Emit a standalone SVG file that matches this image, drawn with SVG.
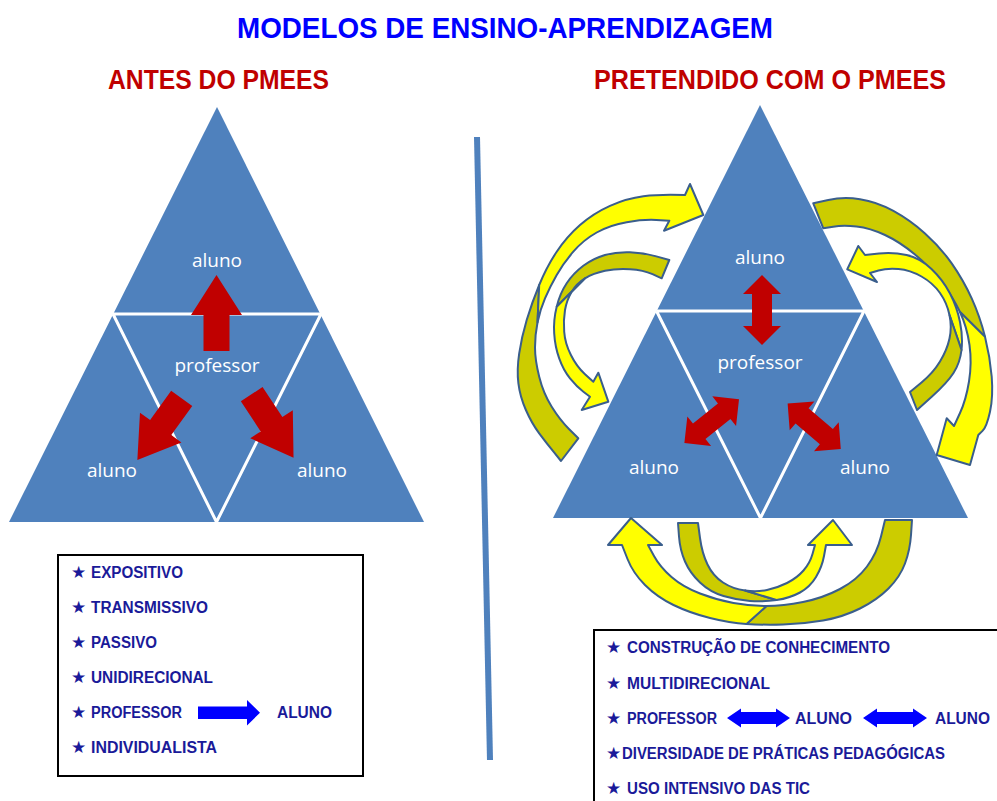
<svg xmlns="http://www.w3.org/2000/svg" width="997" height="801" viewBox="0 0 997 801">
<defs>
<style>
.tri{fill:#4F81BD}
.sep{stroke:#FFFFFF;stroke-width:3;fill:none}
.lbl{font-family:"Open Sans","Liberation Sans",sans-serif;font-size:19px;fill:#FFFFFF;text-anchor:middle}
.red{fill:#C00000}
.ol{fill:#CCCC00;stroke:#3A5E8C;stroke-width:2;stroke-linejoin:round}
.ye{fill:#FFFF00;stroke:#3A5E8C;stroke-width:2;stroke-linejoin:round}
.box{fill:#FFFFFF;stroke:#000000;stroke-width:2}
.it{font-family:"Liberation Sans",Arial,sans-serif;font-weight:bold;font-size:16px;fill:#1A1A99}
.st{font-family:"DejaVu Sans",sans-serif;font-size:17px;fill:#1A1A99}
.bl{fill:#0000FF}
.h1{font-family:"Liberation Sans",Arial,sans-serif;font-weight:bold;font-size:30px;fill:#0000FF}
.h2{font-family:"Liberation Sans",Arial,sans-serif;font-weight:bold;font-size:27px;fill:#C00000}
</style>
<path id="arr1" d="M-13,0 L13,0 L13,-36 L25.5,-36 L0,-76 L-25.5,-36 L-13,-36 Z"/>
<path id="arr2" d="M-35,0 L-16,-19 L-16,-10 L16,-10 L16,-19 L35,0 L16,19 L16,10 L-16,10 L-16,19 Z"/>
</defs>
<rect width="997" height="801" fill="#FFFFFF"/>

<g id="titles">
<text class="h1" x="237" y="38" textLength="536" lengthAdjust="spacingAndGlyphs">MODELOS DE ENSINO-APRENDIZAGEM</text>
<text class="h2" x="108" y="89" textLength="221" lengthAdjust="spacingAndGlyphs">ANTES DO PMEES</text>
<text class="h2" x="594" y="89" textLength="352" lengthAdjust="spacingAndGlyphs">PRETENDIDO COM O PMEES</text>
</g>

<g id="divider">
<line x1="477" y1="137" x2="490" y2="760" stroke="#4F81BD" stroke-width="6"/>
</g>

<g id="left-model">
<polygon class="tri" points="217,107 9,522 424,522"/>
<path class="sep" d="M113,314 L321,314 M113,314 L216.5,522 M321,314 L216.5,522"/>
<text class="lbl" x="217" y="267">aluno</text>
<text class="lbl" x="217" y="372">professor</text>
<text class="lbl" x="112" y="477">aluno</text>
<text class="lbl" x="322" y="477">aluno</text>
<use href="#arr1" class="red" transform="translate(216.5,351)"/>
<use href="#arr1" class="red" transform="translate(181.7,398.3) rotate(-144.3)"/>
<use href="#arr1" class="red" transform="translate(251.7,394.2) rotate(146.6)"/>
</g>

<g id="right-model">
<polygon class="tri" points="760,105 553,518 968,518"/>
<path class="sep" d="M656.5,311 L864,311 M656.5,311 L760.5,518 M864,311 L760.5,518"/>
<text class="lbl" x="760" y="264">aluno</text>
<text class="lbl" x="760" y="369">professor</text>
<text class="lbl" x="654" y="474">aluno</text>
<text class="lbl" x="865" y="474">aluno</text>
<use href="#arr2" class="red" transform="translate(762,310) rotate(90)"/>
<use href="#arr2" class="red" transform="translate(711.7,421.2) rotate(-38.7)"/>
<use href="#arr2" class="red" transform="translate(814.2,426.3) rotate(40.6)"/>
</g>

<g id="cycle-arrows">
<path class="ol" d="M561,461 L553.9,452.2 Q546.7,443.3 539.2,433.3 Q531.7,423.3 525.9,410 Q520,396.7 518.4,383.4 Q516.7,370 519.2,353.4 Q521.7,336.7 526.7,320 Q531.7,303.3 539.2,285 L537.5,322.5 Q535,335 535,347.5 Q535,360 539.2,376.7 Q543.3,393.3 551.7,406.7 Q560,420 569.2,429.2 L578.3,438.3 Z"/>
<path class="ye" d="M539.2,285 Q546.7,266.7 556.7,251.7 Q566.7,236.7 580,225 Q593.3,213.3 610,205.8 Q626.7,198.3 643.4,196.2 Q660,194 685,195 L690,184 L703.3,215 L664,230.7 L669.3,220.7 L656.3,220 Q643.3,219.3 626.7,222.2 Q610,225 596.7,232.5 Q583.3,240 573.3,251.7 Q563.3,263.3 556.7,275 Q550,286.7 545,298.4 Q540,310 537.5,322.5 Z"/>
<path class="ol" d="M669.3,260 L656.3,256.4 Q643.3,252.7 630,252.2 Q616.7,251.7 605,255 Q593.3,258.3 583.3,265.8 Q573.3,273.3 566.7,283.3 Q560,293.3 556.7,306.7 L585,278.3 Q593.3,273.3 605,270.8 Q616.7,268.3 630,269.2 Q643.3,270 652.5,274.2 L661.7,278.3 Z"/>
<path class="ye" d="M556.7,306.7 Q553.3,320 554.2,333.4 Q555,346.7 559.2,358.4 Q563.3,370 570,378.4 Q576.7,386.7 583.4,391.7 L590,396.7 L581.7,410 L608.3,401.7 L598.3,372.7 L593.3,381.7 L585,374.2 Q576.7,366.7 570.9,355 Q565,343.3 564.2,331.7 Q563.3,320 565,310 Q566.7,300 571.7,291.7 Q576.7,283.3 585,278.3 Z"/>
<path class="ol" d="M813.3,203.3 L828.3,200 Q843.3,196.7 860,199.2 Q876.7,201.7 893.4,210.9 Q910,220 925,233.4 Q940,246.7 951.7,263.4 Q963.3,280 971.7,298.4 Q980,316.7 985,336.7 L960,312 Q953,297 941.5,282 Q930,267 915,254.5 Q900,242 885,235 Q870,228 856.5,226.5 Q843,225 833.2,226.7 L823.3,228.3 Z"/>
<path class="ye" d="M985,336.7 Q990,356.7 991.7,376.7 Q993.3,396.7 990,411.7 Q986.7,426.7 982.5,430.9 L978.3,435 L970,465 L936.7,455 L946.7,418.3 L954,426 L960,413 Q966,400 969,381.5 Q972,363 969.5,345 Q967,327 960,312 Z"/>
<path class="ye" d="M865,255 L879,253.5 Q893,252 906.5,255 Q920,258 931.5,269 Q943,280 950,293.5 Q957,307 960,322 Q963,337 961.5,350 L949.5,315 Q947,303 940,293 Q933,283 921.5,276.5 Q910,270 898.5,269 Q887,268 878.5,270.5 L870,273 L877,282 L847.3,269.3 L858.3,246 Z"/>
<path class="ol" d="M961.5,350 Q960,363 953.5,373 Q947,383 932,396.5 L917,410 L910,392 L921.5,382.5 Q933,373 940,361.5 Q947,350 949.5,338.5 Q952,327 949.5,315 Z"/>
<path class="ol" d="M912,520 L911,535 Q910,550 905,563.5 Q900,577 888.5,588.5 Q877,600 860,608.5 Q843,617 823,620.5 Q803,624 783,624.5 Q763,625 746.5,624 L766.5,606 Q783,606 803,602 Q823,598 840,589 Q857,580 867,566.5 Q877,553 881,536.5 L885,520 Z"/>
<path class="ye" d="M746.5,624 Q730,623 710,618 Q690,613 673.5,605 Q657,597 645,585 Q633,573 627.5,559 L622,545 L608,545 L631,518 L662,545 L648,545 L654,556 Q660,567 671.5,577 Q683,587 700,593.5 Q717,600 733.5,603 Q750,606 766.5,606 Z"/>
<path class="ol" d="M678,523 L679,536.5 Q680,550 685,561.5 Q690,573 700,582.5 Q710,592 723.5,596 Q737,600 750,601 Q763,602 776.5,600 L745,590.5 Q733,589 723,582.5 Q713,576 707.5,564.5 Q702,553 700,538 L698,523 Z"/>
<path class="ye" d="M776.5,600 Q790,598 800,592.5 Q810,587 816,577 Q822,567 824,556 L826,545 L852,545 L833,520 L808,545 L815,545 L812.5,554 Q810,563 803.5,570.5 Q797,578 787,583 Q777,588 767,590 Q757,592 745,590.5 Z"/>
</g>

<g id="left-box">
<rect class="box" x="58" y="555" width="305" height="221"/>
<text class="st" x="71" y="578">★</text><text class="it" x="91" y="578" textLength="92" lengthAdjust="spacingAndGlyphs">EXPOSITIVO</text>
<text class="st" x="71" y="613">★</text><text class="it" x="91" y="613" textLength="117" lengthAdjust="spacingAndGlyphs">TRANSMISSIVO</text>
<text class="st" x="71" y="648">★</text><text class="it" x="91" y="648" textLength="66" lengthAdjust="spacingAndGlyphs">PASSIVO</text>
<text class="st" x="71" y="683">★</text><text class="it" x="91" y="683" textLength="122" lengthAdjust="spacingAndGlyphs">UNIDIRECIONAL</text>
<text class="st" x="71" y="718">★</text><text class="it" x="91" y="718" textLength="91" lengthAdjust="spacingAndGlyphs">PROFESSOR</text>
<polygon class="bl" points="198,706.5 247,706.5 247,700 260,712.7 247,725.5 247,719 198,719"/>
<text class="it" x="277" y="718" textLength="55" lengthAdjust="spacingAndGlyphs">ALUNO</text>
<text class="st" x="71" y="753">★</text><text class="it" x="91" y="753" textLength="126" lengthAdjust="spacingAndGlyphs">INDIVIDUALISTA</text>
</g>

<g id="right-box">
<rect class="box" x="594" y="630" width="420" height="200"/>
<text class="st" x="606" y="653">★</text><text class="it" x="627" y="653" textLength="263" lengthAdjust="spacingAndGlyphs">CONSTRUÇÃO DE CONHECIMENTO</text>
<text class="st" x="606" y="689">★</text><text class="it" x="627" y="689" textLength="143" lengthAdjust="spacingAndGlyphs">MULTIDIRECIONAL</text>
<text class="st" x="606" y="724">★</text><text class="it" x="627" y="724" textLength="90" lengthAdjust="spacingAndGlyphs">PROFESSOR</text>
<polygon class="bl" points="727,718 741,708.5 741,712 776,712 776,708.5 790,718 776,727.5 776,724 741,724 741,727.5"/>
<text class="it" x="795" y="724" textLength="57" lengthAdjust="spacingAndGlyphs">ALUNO</text>
<polygon class="bl" points="863,718 877,708.5 877,712 913,712 913,708.5 927,718 913,727.5 913,724 877,724 877,727.5"/>
<text class="it" x="935" y="724" textLength="55" lengthAdjust="spacingAndGlyphs">ALUNO</text>
<text class="st" x="606" y="759">★</text><text class="it" x="622" y="759" textLength="323" lengthAdjust="spacingAndGlyphs">DIVERSIDADE DE PRÁTICAS PEDAGÓGICAS</text>
<text class="st" x="606" y="794">★</text><text class="it" x="627" y="794" textLength="183" lengthAdjust="spacingAndGlyphs">USO INTENSIVO DAS TIC</text>
</g>
</svg>
